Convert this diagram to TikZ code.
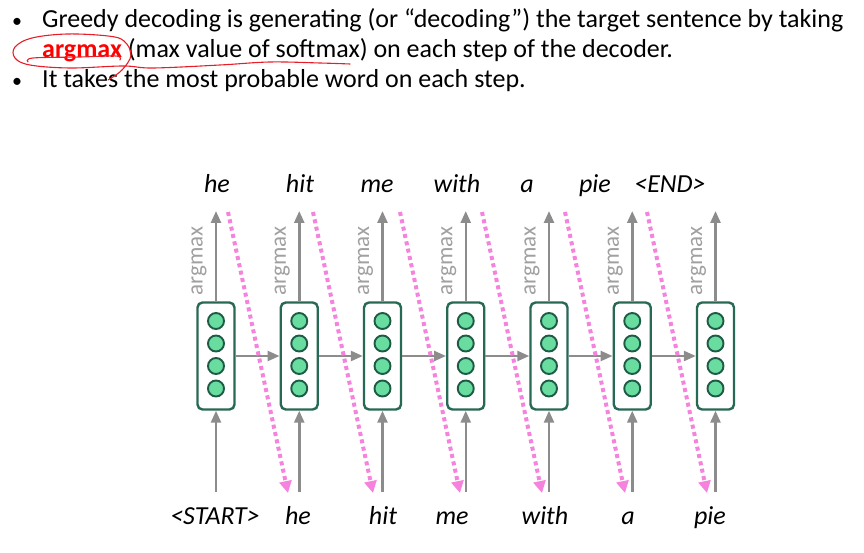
\documentclass[tikz,border=0pt]{standalone}
\usepackage{fontspec}
\setmainfont{Carlito}
\usetikzlibrary{arrows.meta}
\definecolor{boxgreen}{RGB}{40,105,85}
\definecolor{cellfill}{RGB}{105,220,160}
\definecolor{cellline}{RGB}{30,90,70}
\definecolor{arrgray}{RGB}{140,140,140}
\definecolor{labgray}{RGB}{160,160,160}
\definecolor{pinkdot}{RGB}{245,130,220}
\definecolor{annred}{RGB}{230,30,40}
\definecolor{argred}{RGB}{255,0,0}
\tikzset{
  bodytext/.style={anchor=base west, inner sep=0pt, font=\fontsize{26}{30}\selectfont},
  bulletmark/.style={anchor=base, inner sep=0pt, font=\fontsize{20}{24}\selectfont},
  rnnbox/.style={draw=boxgreen, line width=2.4pt, rounded corners=5pt, minimum width=37pt, minimum height=107pt, inner sep=0pt},
  cell/.style={circle, draw=cellline, fill=cellfill, line width=1.9pt, minimum size=16pt, inner sep=0pt},
  grayarrow/.style={draw=arrgray, line width=2.5pt, -{Triangle[length=12pt,width=10pt]}},
  pinkarrow/.style={draw=pinkdot, line width=4pt, dash pattern=on 4pt off 3.5pt, -{Triangle[length=12pt,width=12pt]}},
  word/.style={anchor=base, inner sep=0pt, font=\fontsize{26}{30}\selectfont\itshape},
  amlabel/.style={rotate=90, inner sep=0pt, text=labgray, font=\fontsize{23}{26}\selectfont},
  annot/.style={draw=annred, line width=1.1pt, line cap=round}
}
\begin{document}
\begin{tikzpicture}[x=1pt,y=-1pt]
\useasboundingbox (0,0) rectangle (864,553);

% bullet text
\node[bulletmark] (bu1) at (17,28) {•};
\node[bodytext] (l1) at (42,28) {Greedy decoding is generating (or “decoding”) the target sentence by taking};
\node[bodytext] (l2) at (42,58) {{\color{argred}\bfseries argmax} (max value of softmax) on each step of the decoder.};
\node[bulletmark] (bu3) at (17,88) {•};
\node[bodytext] (l3) at (42,88) {It takes the most probable word on each step.};

% hand-drawn annotation
\draw[annot] plot[smooth, tension=0.6] coordinates {(108,80) (122,70) (131,55) (124,41) (108,36) (67,34) (32,38) (15,47) (15,58) (30,65) (70,68) (123,66) (153,68) (220,65) (270,62) (320,63) (350,64)};
\draw[annot] plot[smooth, tension=0.6] coordinates {(28,62) (33,58) (80,57) (116,56) (120,60)};

% RNN cells
\foreach \i/\x in {1/216,2/299.25,3/382.5,4/465.75,5/549,6/632.25,7/715.5}{
  \node[rnnbox] (b\i) at (\x,356) {};
  \foreach \j/\y in {1/321,2/343.5,3/366,4/388.5}{
    \node[cell] (c\i\j) at (\x,\y) {};
  }
  \coordinate (t\i) at (\x,211);
  \coordinate (s\i) at (\x,492);
  \draw[grayarrow] (b\i.north) -- (t\i);
  \draw[grayarrow] (s\i) -- (b\i.south);
  \node[amlabel] (am\i) at (\x-17,261) {argmax};
}
\foreach \i/\j in {1/2,2/3,3/4,4/5,5/6,6/7}{
  \draw[grayarrow] (b\i.east) -- (b\j.west);
}

% output words
\node[word] (o1) at (217,193) {he};
\node[word] (o2) at (300,193) {hit};
\node[word] (o3) at (377,193) {me};
\node[word] (o4) at (457,193) {with};
\node[word] (o5) at (527,193) {a};
\node[word] (o6) at (595,193) {pie};
\node[word] (o7) at (670,193) {<END>};

% input words
\node[word] (i1) at (215,524) {<START>};
\node[word] (i2) at (298,524) {he};
\node[word] (i3) at (383,524) {hit};
\node[word] (i4) at (452,524) {me};
\node[word] (i5) at (545,524) {with};
\node[word] (i6) at (628,524) {a};
\node[word] (i7) at (710,524) {pie};

% pink feed-back arrows
\foreach \k/\a/\b in {1/228/288,2/313/373,3/400/460,4/482/542,5/565/625,6/647/707}{
  \coordinate (p\k) at (\a,212);
  \coordinate (q\k) at (\b,493);
  \draw[pinkarrow] (p\k) -- (q\k);
}
\end{tikzpicture}
\end{document}
